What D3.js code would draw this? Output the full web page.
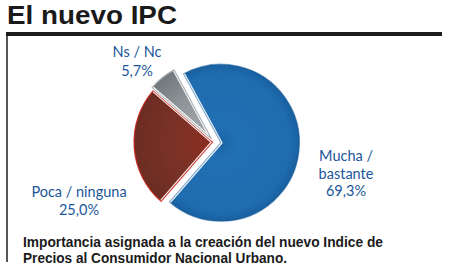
<!DOCTYPE html>
<html><head><meta charset="utf-8">
<script src="https://cdn.jsdelivr.net/npm/d3@7"></script>
<style>html,body{margin:0;padding:0;background:#fff;}</style>
</head><body>
<svg id="c" width="450" height="277"></svg>
<script>
const categories = ["Mucha / bastante", "Poca / ninguna", "Ns / Nc"];
const values = [69.3, 25.0, 5.7];
const valueLabels = ["69,3%", "25,0%", "5,7%"];
const labelLines = [["Mucha /", "bastante", "69,3%"], ["Poca / ninguna", "25,0%"], ["Ns / Nc", "5,7%"]];

const svg = d3.select("#c");
svg.append("rect").attr("width",450).attr("height",277).attr("fill","#fff");

// title
svg.append("text").attr("x",7).attr("y",24)
  .attr("font-family","Liberation Sans, Arial, sans-serif").attr("font-weight","bold")
  .attr("font-size",26).attr("fill","#1a1a1a")
  .attr("textLength",170).attr("lengthAdjust","spacingAndGlyphs").text("El nuevo IPC");
svg.append("rect").attr("x",6).attr("y",32).attr("width",436).attr("height",4).attr("fill","#1c1c1c");
svg.append("rect").attr("x",6).attr("y",36).attr("width",2).attr("height",226).attr("fill","#555");

const defs = svg.append("defs");
function grad(id, stops){
  const g = defs.append("radialGradient").attr("id",id).attr("gradientUnits","userSpaceOnUse")
    .attr("cx",0).attr("cy",0).attr("r",81);
  stops.forEach(s=>g.append("stop").attr("offset",s[0]).attr("stop-color",s[1]));
}
grad("gBlue",[[0,"#1c64a6"],[0.2,"#2170b3"],[0.85,"#1f6cae"],[0.95,"#1a62a2"],[1,"#145590"]]);
grad("gRed",[[0,"#8e2c20"],[0.5,"#7a3226"],[1,"#6c2c22"]]);
grad("gGray",[[0,"#a9aeb2"],[0.6,"#8c9296"],[1,"#6f767b"]]);
const fills = ["url(#gBlue)","url(#gRed)","url(#gGray)"];
const edge = ["#1a5f9e","#c8221a","#a4aaae"];
const offsets = [7, 1.5, 4];

const cx = 214, cy = 142, R = 80;
const pie = d3.pie().sort(null).startAngle(-28.5*Math.PI/180).endAngle((360-28.5)*Math.PI/180);
const arcs = pie(values);
const arc = d3.arc().innerRadius(0).outerRadius(R);

const g = svg.append("g").attr("transform",`translate(${cx},${cy})`);
arcs.forEach((a,i)=>{
  const mid = (a.startAngle+a.endAngle)/2;
  const dx = Math.sin(mid)*offsets[i], dy = -Math.cos(mid)*offsets[i];
  const sg = g.append("g").attr("transform",`translate(${dx},${dy})`);
  sg.append("path").attr("d",arc(a)).attr("fill",fills[i])
    .attr("stroke","#fff").attr("stroke-width",3).attr("stroke-linejoin","miter");
  sg.append("path").attr("d",d3.arc().innerRadius(0).outerRadius(R-1.5)(a))
    .attr("fill","none").attr("stroke",edge[i]).attr("stroke-width",1.2).attr("opacity",i===0?0.5:0.85);
});

// labels
const labelPos = [[346,161],[79,197],[137,57]];
const lineH = [17.5,18,18.5];
labelLines.forEach((lines,i)=>{
  const t = svg.append("text").attr("text-anchor","middle")
    .attr("font-family","Lato, 'Open Sans', sans-serif").attr("font-size",14.5)
    .attr("fill","#1b579a");
  lines.forEach((l,j)=>t.append("tspan").attr("x",labelPos[i][0]).attr("y",labelPos[i][1]+j*lineH[i]).text(l));
});

// caption
const capFont = {"font-family":"Liberation Sans, Arial, sans-serif","font-weight":"bold","font-size":14,"fill":"#1a1a1a"};
const c1 = svg.append("text").attr("x",23).attr("y",247).attr("textLength",360).attr("lengthAdjust","spacingAndGlyphs")
  .text("Importancia asignada a la creación del nuevo Indice de");
const c2 = svg.append("text").attr("x",23).attr("y",263).attr("textLength",264).attr("lengthAdjust","spacingAndGlyphs")
  .text("Precios al Consumidor Nacional Urbano.");
[c1,c2].forEach(t=>Object.entries(capFont).forEach(([k,v])=>t.attr(k,v)));
</script>
</body></html>
